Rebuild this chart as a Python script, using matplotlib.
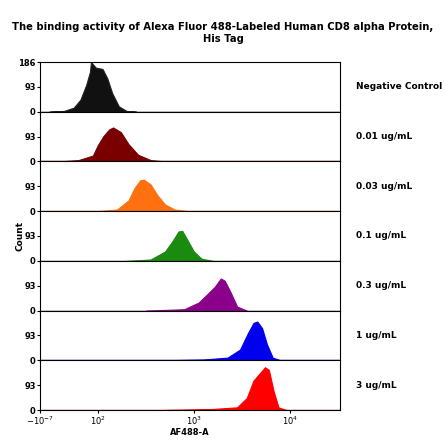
import numpy as np
import matplotlib.pyplot as plt

title = "The binding activity of Alexa Fluor 488-Labeled Human CD8 alpha Protein,\nHis Tag"
labels = ["Negative Control", "0.01 ug/mL", "0.03 ug/mL", "0.1 ug/mL",
          "0.3 ug/mL", "1 ug/mL", "3 ug/mL"]
colors = ["#111111", "#7a0000", "#ff7010", "#1a8a10", "#8a008a", "#0000ee", "#ff0000"]

# histogram outlines: log10(AF488-A) and counts
neg_x = [1.50, 1.65, 1.75, 1.82, 1.88, 1.92, 1.93, 1.98, 2.05, 2.10, 2.15, 2.22, 2.30, 2.40]
neg_y = [0, 3, 15, 45, 100, 150, 186, 165, 160, 125, 70, 20, 3, 0]
r1_x = [1.60, 1.80, 1.95, 2.00, 2.06, 2.12, 2.16, 2.24, 2.32, 2.42, 2.55, 2.70]
r1_y = [0, 5, 22, 60, 95, 120, 127, 110, 65, 25, 5, 0]
o_x = [2.00, 2.20, 2.32, 2.38, 2.44, 2.48, 2.55, 2.62, 2.70, 2.80, 2.95]
o_y = [0, 6, 40, 85, 115, 118, 100, 60, 25, 6, 0]
g_x = [2.30, 2.55, 2.70, 2.78, 2.84, 2.88, 2.93, 3.00, 3.08, 3.20]
g_y = [0, 5, 35, 75, 110, 112, 80, 35, 8, 0]
p_x = [2.50, 2.90, 3.05, 3.15, 3.22, 3.28, 3.32, 3.38, 3.45, 3.55]
p_y = [0, 5, 30, 65, 90, 120, 112, 70, 15, 0]
b_x = [2.70, 3.10, 3.35, 3.48, 3.56, 3.62, 3.66, 3.71, 3.76, 3.82, 3.90]
b_y = [0, 3, 10, 40, 100, 140, 145, 120, 60, 10, 0]
rd_x = [2.70, 3.20, 3.45, 3.55, 3.62, 3.68, 3.74, 3.78, 3.83, 3.88, 3.96]
rd_y = [0, 4, 10, 45, 110, 135, 160, 150, 70, 10, 0]
xs = [neg_x, r1_x, o_x, g_x, p_x, b_x, rd_x]
ys = [neg_y, r1_y, o_y, g_y, p_y, b_y, rd_y]

fig = plt.figure(figsize=(4.46, 4.46), dpi=100)
fig.suptitle(title, fontsize=7.2, fontweight="bold", y=0.95)
left, right, top, bottom = 40/446, 340/446, 1-62/446, 1-410/446
h = (top - bottom) / 7
for i in range(7):
    ax = fig.add_axes([left, top - (i+1)*h, right-left, h])
    ax.fill_between(xs[i], ys[i], color=colors[i], lw=0.8, edgecolor="#222222" if i == 0 else colors[i])
    ax.plot([1.4, 4.52], [0, 0], color=colors[i], lw=1)
    ax.set_xlim(1.4, 4.52)
    ax.set_ylim(0, 186)
    ax.set_yticks([0, 93, 186] if i == 0 else [0, 93])
    ax.tick_params(labelsize=6, length=2, pad=1)
    for lab in ax.get_yticklabels():
        lab.set_fontweight("bold")
    ax.set_xticks([1.4, 2, 3, 4])
    if i < 6:
        ax.set_xticklabels([])
    else:
        ax.set_xticklabels([r"$-10^{-7}$", r"$10^2$", r"$10^3$", r"$10^4$"], fontsize=6)
        ax.set_xlabel("AF488-A", fontsize=6, fontweight="bold", labelpad=1)
    ax.text(1.055, 0.5, labels[i], transform=ax.transAxes, fontsize=6.5,
            fontweight="bold", va="center")
fig.text(0.035, (top+bottom)/2, "Count", rotation=90, fontsize=6.5, fontweight="bold", va="center")
fig.savefig("out.png", dpi=100)
